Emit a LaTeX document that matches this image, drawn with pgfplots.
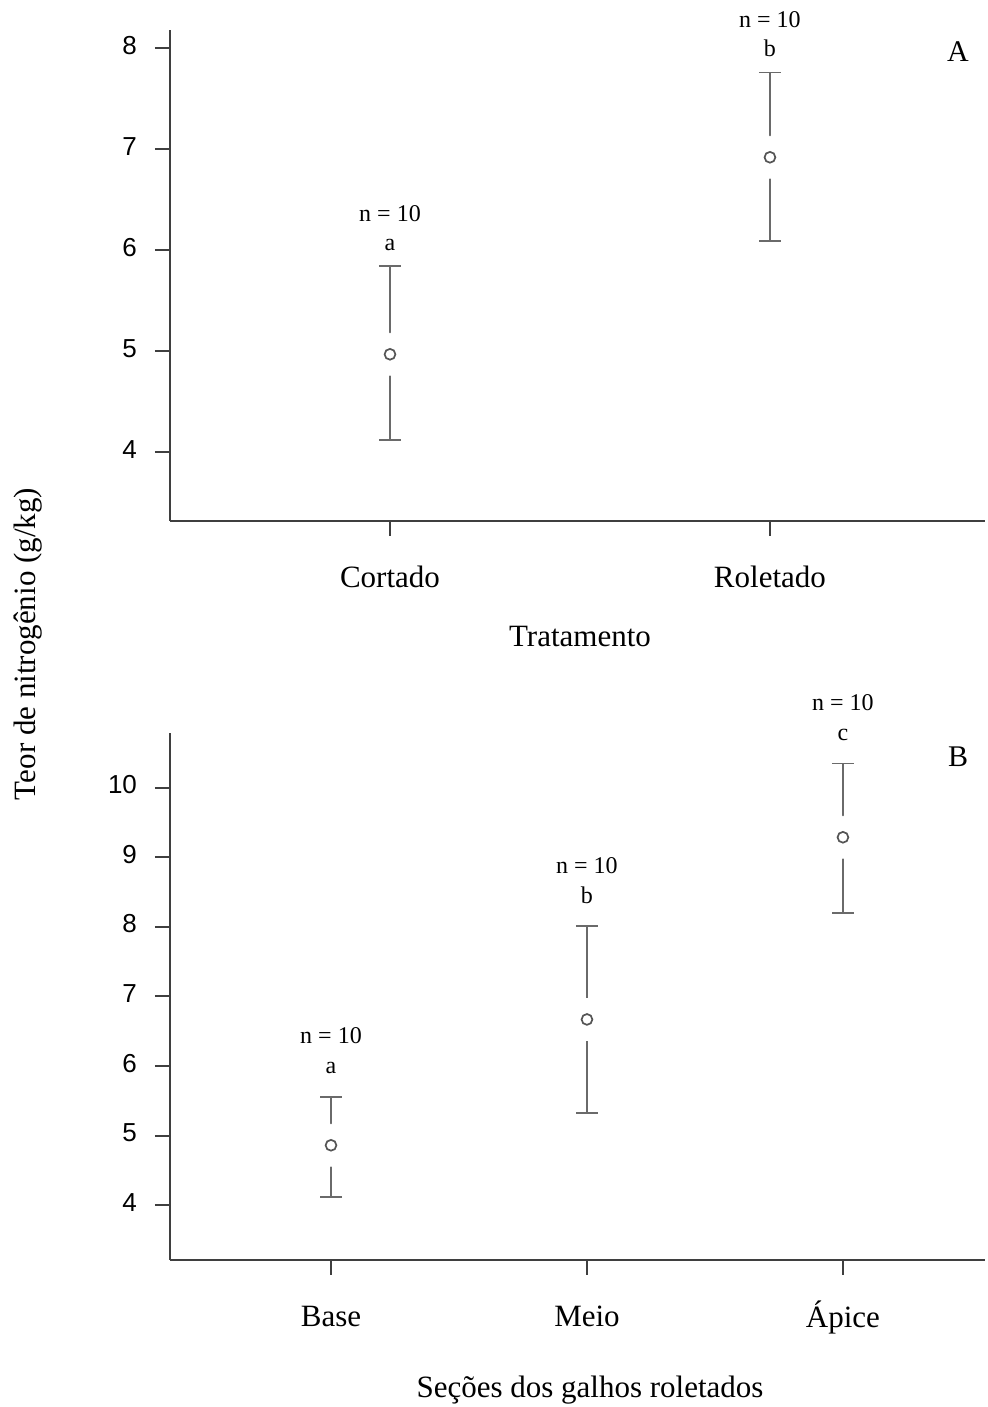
\documentclass[border=0pt]{standalone}
\usepackage{fontspec}
\setmainfont{Liberation Serif}
\newfontfamily\sansf{Liberation Sans}
\usepackage{pgfplots}
\pgfplotsset{compat=1.18}
\usepackage{pgfplotstable}
\definecolor{axcol}{HTML}{3F3F3F}
\definecolor{barcol}{HTML}{6A6A6A}
\definecolor{ptcol}{HTML}{555555}

\pgfplotstableread{
x y ep em
0 4.97 0.87 0.85
1 6.92 0.84 0.83
}\dataA
\pgfplotstableread{
x y ep em
0 4.86 0.70 0.74
1 6.67 1.34 1.35
2 9.29 1.06 1.09
}\dataB

\pgfplotsset{
 mystyle/.style={
  scale only axis, width=407.5pt,
  axis x line*=bottom, axis y line*=left,
  axis line style={axcol, line width=1pt},
  tick align=outside, major tick length=7.5pt,
  tick style={axcol, line width=1pt},
  /pgf/number format/assume math mode=true,
  typeset ticklabels with strut,
  yticklabel style={font=\sansf\fontsize{13}{15}\selectfont, xshift=-5.5pt},
  xticklabel style={font=\fontsize{15.5}{18}\selectfont, yshift=-9.5pt},
  clip=false,
 },
 ebars/.style={only marks, mark=none, barcol, error bars/.cd, y dir=both, y explicit,
   error bar style={line width=0.9pt, barcol},
   error mark options={rotate=90, mark size=5.5pt, line width=0.9pt, barcol}},
 wmask/.style={only marks, mark=*, mark size=10.5pt, white, mark options={draw=white, fill=white}},
 pts/.style={only marks, mark=o, mark size=2.7pt, ptcol, mark options={ptcol, line width=0.85pt}},
}

\begin{document}
\begin{tikzpicture}
\useasboundingbox (0,0) rectangle (493.5pt,703.5pt);

\begin{axis}[mystyle, at={(85pt,443pt)}, anchor=south west, height=245.5pt,
  xmin=-0.579, xmax=1.566, ymin=3.32, ymax=8.18,
  xtick={0,1}, xticklabels={Cortado,Roletado}, ytick={4,...,8}]
\addplot[ebars] table[x=x,y=y,y error plus=ep,y error minus=em]{\dataA};
\addplot[wmask] table[x=x,y=y]{\dataA};
\addplot[pts] table[x=x,y=y]{\dataA};
\node[anchor=base, font=\fontsize{12}{14}\selectfont, yshift=8pt] at (axis cs:0,5.84) {a};
\node[anchor=base, font=\fontsize{12}{14}\selectfont, yshift=22.5pt] at (axis cs:0,5.84) {n = 10};
\node[anchor=base, font=\fontsize{12}{14}\selectfont, yshift=8pt] at (axis cs:1,7.76) {b};
\node[anchor=base, font=\fontsize{12}{14}\selectfont, yshift=22.5pt] at (axis cs:1,7.76) {n = 10};
\end{axis}

\begin{axis}[mystyle, at={(85pt,73.5pt)}, anchor=south west, height=263.5pt,
  xmin=-0.629, xmax=2.555, ymin=3.21, ymax=10.79,
  xtick={0,1,2}, xticklabels={Base,Meio,Ápice}, ytick={4,...,10}]
\addplot[ebars] table[x=x,y=y,y error plus=ep,y error minus=em]{\dataB};
\addplot[wmask] table[x=x,y=y]{\dataB};
\addplot[pts] table[x=x,y=y]{\dataB};
\node[anchor=base, font=\fontsize{12}{14}\selectfont, yshift=11.5pt] at (axis cs:0,5.56) {a};
\node[anchor=base, font=\fontsize{12}{14}\selectfont, yshift=26.5pt] at (axis cs:0,5.56) {n = 10};
\node[anchor=base, font=\fontsize{12}{14}\selectfont, yshift=11.5pt] at (axis cs:1,8.01) {b};
\node[anchor=base, font=\fontsize{12}{14}\selectfont, yshift=26.5pt] at (axis cs:1,8.01) {n = 10};
\node[anchor=base, font=\fontsize{12}{14}\selectfont, yshift=11.5pt] at (axis cs:2,10.35) {c};
\node[anchor=base, font=\fontsize{12}{14}\selectfont, yshift=26.5pt] at (axis cs:2,10.35) {n = 10};
\end{axis}

\node[font=\fontsize{15}{18}\selectfont] at (479pt,677.5pt) {A};
\node[font=\fontsize{15}{18}\selectfont] at (479pt,325pt) {B};
\node[font=\fontsize{15.5}{18}\selectfont] at (290pt,385pt) {Tratamento};
\node[font=\fontsize{15.5}{18}\selectfont] at (295pt,8.5pt) {Seções dos galhos roletados};
\node[font=\fontsize{15.5}{18}\selectfont, rotate=90] at (14pt,381.5pt) {Teor de nitrogênio (g/kg)};
\end{tikzpicture}
\end{document}
